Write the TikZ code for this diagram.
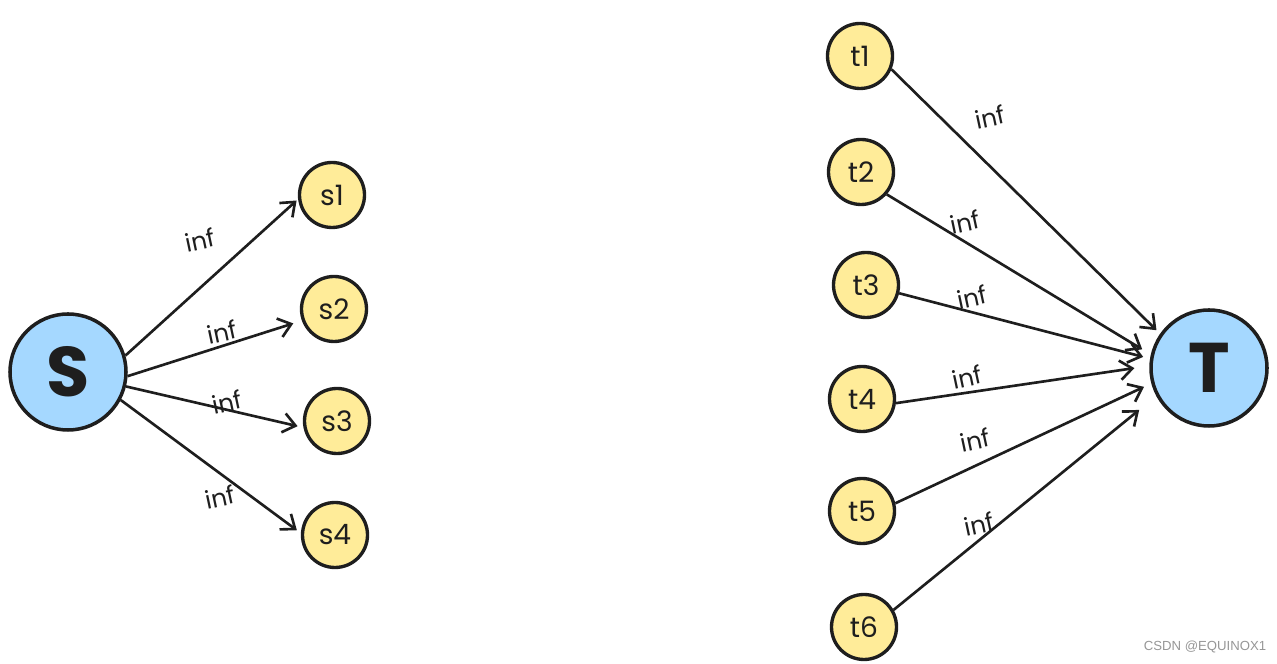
\documentclass[tikz,border=0pt]{standalone}
\usepackage{fontspec}
\setmainfont{Poppins}
\newfontfamily\markfont{Liberation Sans}
\usetikzlibrary{arrows.meta}
\definecolor{inkblack}{RGB}{30,30,30}
\definecolor{nodeyellow}{RGB}{255,236,153}
\definecolor{nodeblue}{RGB}{165,216,255}
\definecolor{markgray}{RGB}{150,150,150}
\tikzstyle{bignode} = [circle, minimum size=2.32cm, inner sep=0pt, draw=inkblack, line width=2pt, fill=nodeblue, text=inkblack, font=\fontsize{40}{40}\selectfont\bfseries]
\tikzstyle{smallnode} = [circle, minimum size=1.3cm, inner sep=0pt, draw=inkblack, line width=1.9pt, fill=nodeyellow, text=inkblack, font=\fontsize{16}{16}\selectfont]
\tikzstyle{edge} = [line width=1.5pt, draw=inkblack, -{Straight Barb[length=7pt, width=11pt, line width=1.5pt]}]
\tikzstyle{capnote} = [font=\fontsize{14}{14}\selectfont, text=inkblack, rotate=12, inner sep=0pt]

\begin{document}
\begin{tikzpicture}

\useasboundingbox (0,0) rectangle (25.54,13.28);

% Source side
\node[bignode] (S) at (1.36,5.84) {S};
\node[smallnode] (s1) at (6.64,9.38) {s1};
\node[smallnode] (s2) at (6.68,7.10) {s2};
\node[smallnode] (s3) at (6.74,4.86) {s3};
\node[smallnode] (s4) at (6.70,2.58) {s4};

% Sink side
\node[bignode] (T) at (24.18,5.92) {T};
\node[smallnode] (t1) at (17.20,12.16) {t1};
\node[smallnode] (t2) at (17.22,9.84) {t2};
\node[smallnode] (t3) at (17.32,7.58) {t3};
\node[smallnode] (t4) at (17.24,5.30) {t4};
\node[smallnode] (t5) at (17.24,3.06) {t5};
\node[smallnode] (t6) at (17.28,0.74) {t6};

% Edges from S
\draw[edge, shorten >=0.04cm] (S.16) -- (s1.187);
\draw[edge, shorten >=0.18cm] (S.-4) -- (s2.200);
\draw[edge, shorten >=0.12cm] (S.-14) -- (s3.191);
\draw[edge, shorten >=0.10cm] (S.-28) -- (s4.177);

% Edges into T
\draw[edge, shorten >=0.10cm] (t1.-23) -- (T.145);
\draw[edge, shorten >=0.20cm] (t2.-41) -- (T.167);
\draw[edge, shorten >=0.14cm] (t3.-14) -- (T.171);
\draw[edge, shorten >=0.30cm] (t4.-7) -- (T.178);
\draw[edge, shorten >=0.16cm] (t5.13) -- (T.195);
\draw[edge, shorten >=0.44cm] (t6.30) -- (T.208);

% Capacities
\node[capnote] (c1) at (4.00,8.48) {inf};
\node[capnote] (c2) at (4.44,6.64) {inf};
\node[capnote] (c3) at (4.54,5.24) {inf};
\node[capnote] (c4) at (4.40,3.34) {inf};
\node[capnote] (d1) at (19.80,10.94) {inf};
\node[capnote] (d2) at (19.30,8.84) {inf};
\node[capnote] (d3) at (19.44,7.34) {inf};
\node[capnote] (d4) at (19.34,5.74) {inf};
\node[capnote] (d5) at (19.50,4.48) {inf};
\node[capnote] (d6) at (19.58,2.80) {inf};

% Watermark
\node[font=\markfont\fontsize{7.5}{8}\selectfont, text=markgray] (mark) at (24.10,0.34) {CSDN @EQUINOX1};

\end{tikzpicture}
\end{document}
